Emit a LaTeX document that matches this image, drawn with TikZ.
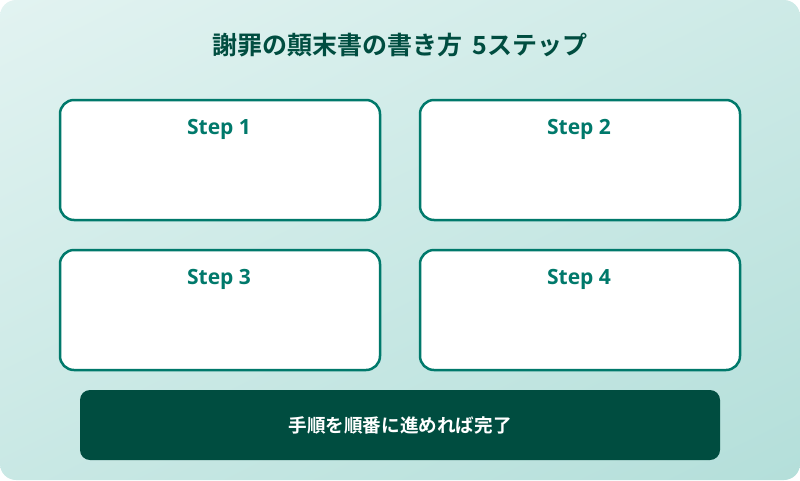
\documentclass[tikz,border=0pt]{standalone}
\usepackage{fontspec}
\setmainfont{Noto Sans CJK JP}[BoldFont={* Bold}]
\newfontfamily\latinbold{Open Sans}[BoldFont={* Bold}]
\usetikzlibrary{positioning,shadings}
\definecolor{bgA}{HTML}{E2F3F1}
\definecolor{bgB}{HTML}{B4DFDA}
\definecolor{darkgreen}{HTML}{004D40}
\definecolor{teal}{HTML}{00796B}
\tikzset{
  stepbox/.style={draw=teal, line width=2.5pt, fill=white, rounded corners=14pt,
    minimum width=320pt, minimum height=120pt, inner sep=0pt, outer sep=0pt, anchor=north west},
  steplabel/.style={font=\latinbold\bfseries\fontsize{21}{24}\selectfont, text=teal, anchor=center},
  titletext/.style={font=\bfseries\fontsize{25}{29}\selectfont, text=darkgreen},
  barbox/.style={fill=darkgreen, rounded corners=10pt, minimum width=640pt, minimum height=70pt, inner sep=0pt, outer sep=0pt,
    text=white, font=\bfseries\fontsize{18.6}{22}\selectfont}
}
\begin{document}
\begin{tikzpicture}[x=1pt,y=-1pt]
\useasboundingbox (0,0) rectangle (800,480);
\shade[rounded corners=16pt, upper left=bgA, lower right=bgB, upper right=bgA!55!bgB, lower left=bgA!45!bgB] (0,0) rectangle (800,480);
\node[titletext] (title) at (400,45) {謝罪の顛末書の書き方\hspace{0.4em}5ステップ};
\node[stepbox] (s1) at (60,100) {};
\node[stepbox] (s2) at (420,100) {};
\node[stepbox] (s3) at (60,250) {};
\node[stepbox] (s4) at (420,250) {};
\node[steplabel] (l1) at (219,129) {Step 1};
\node[steplabel] (l2) at (579,129) {Step 2};
\node[steplabel] (l3) at (219,279) {Step 3};
\node[steplabel] (l4) at (579,279) {Step 4};
\node[barbox] (bar) at (400,425) {手順を順番に進めれば完了};
\end{tikzpicture}
\end{document}
